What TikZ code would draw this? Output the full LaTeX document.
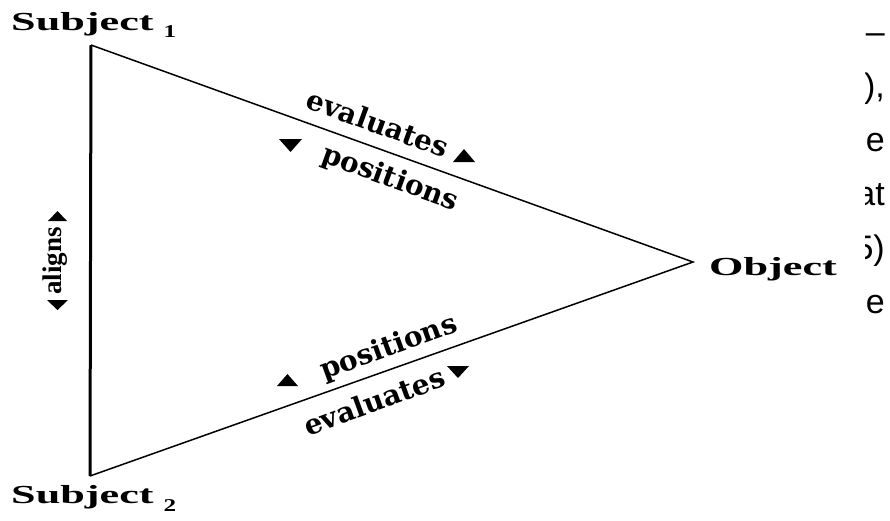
\documentclass[tikz,border=0pt]{standalone}
\usepackage{fontspec}
\setmainfont{Liberation Serif}
\newfontfamily\fragfont{Liberation Sans}
\newfontfamily\wideA[FakeStretch=1.7]{Liberation Serif}
\newfontfamily\wideC[FakeStretch=1.4]{Liberation Serif}
\newfontfamily\edgefont{DejaVu Serif}
\tikzset{
  lbl/.style={inner sep=0pt, font=\wideA\fontsize{26}{26}\selectfont\bfseries},
  elbl/.style={inner sep=0pt, font=\edgefont\fontsize{28}{28}\selectfont\bfseries},
  edgeline/.style={line width=1.5pt},
  thickedge/.style={line width=3pt},
  frag/.style={inner sep=0pt, font=\fragfont\fontsize{34}{34}\selectfont, anchor=base east},
  tri/.style={fill=black}
}
\begin{document}
\begin{tikzpicture}[x=1pt,y=-1pt]
\useasboundingbox (0,0) rectangle (890,520);
\fill[white] (0,0) rectangle (890,520);
% vertices
\coordinate (v1) at (91,45);
\coordinate (v2) at (90,476);
\coordinate (v3) at (693,262);
\draw[edgeline] (v1) -- (v3) -- (v2);
\draw[thickedge] (v1) -- (v2);
% vertex labels
\node[lbl, anchor=base west] (s1) at (11,30) {Subject\hspace{10pt}\raisebox{-7pt}{\wideC\fontsize{18}{18}\selectfont 1}};
\node[lbl, anchor=base west] (s2) at (11,503) {Subject\hspace{10pt}\raisebox{-8pt}{\wideC\fontsize{18}{18}\selectfont 2}};
\node[lbl, anchor=base west] (obj) at (709,275) {Object};
% edge labels
\node[elbl, rotate=-20] (evalU) at (378,123) {evaluates};
\node[elbl, rotate=-20] (posU) at (390,179) {positions};
\node[elbl, rotate=20] (posL) at (389,348) {positions};
\node[elbl, rotate=20] (evalL) at (374,401) {evaluates};
\node[inner sep=0pt, font=\fontsize{27}{27}\selectfont\bfseries, rotate=90] (aligns) at (55,261) {aligns};
% small triangles
\fill[tri] (279,139) -- (302,139) -- (290.5,152) -- cycle;
\fill[tri] (453,162) -- (475,162) -- (464,149) -- cycle;
\fill[tri] (277,386) -- (298,386) -- (287.5,374) -- cycle;
\fill[tri] (447,366) -- (469,366) -- (458,378) -- cycle;
\fill[tri] (48,221) -- (67,221) -- (57.5,211) -- cycle;
\fill[tri] (47,300) -- (68,300) -- (57.5,310) -- cycle;
% clipped text fragments at the right edge
\begin{scope}
\clip (865,0) rectangle (890,520);
\node[frag] (f1) at (885,43) {–};
\node[frag] (f2) at (885,97) {),};
\node[frag] (f3) at (885,151) {e};
\node[frag] (f4) at (885,205) {at};
\node[frag] (f5) at (885,259) {5)};
\node[frag] (f6) at (885,313) {e};
\end{scope}
\end{tikzpicture}
\end{document}
